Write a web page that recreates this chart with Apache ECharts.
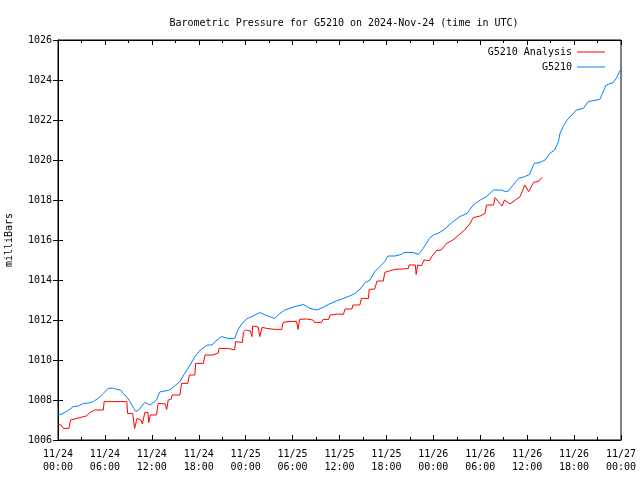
<!DOCTYPE html>
<html>
<head>
<meta charset="utf-8">
<script src="https://cdn.jsdelivr.net/npm/echarts@6/dist/echarts.min.js"></script>
<style>html,body{margin:0;padding:0;background:#fff}#c{width:640px;height:480px}</style>
</head>
<body>
<div id="c"></div>
<script>
// hours since 2024-11-24 00:00 UTC
const tickLabels = ['11/24\n00:00','11/24\n06:00','11/24\n12:00','11/24\n18:00','11/25\n00:00','11/25\n06:00','11/25\n12:00','11/25\n18:00','11/26\n00:00','11/26\n06:00','11/26\n12:00','11/26\n18:00','11/27\n00:00'];

const obsHours = [0,0.5,1.2,1.96,2.6,3.24,3.9,4.5,5.2,5.8,6.4,7.0,7.5,8.0,8.35,8.8,9.2,9.6,9.97,10.4,10.7,11.1,11.8,12.6,13.0,14.3,14.9,15.6,16.2,16.9,17.5,18.2,19.1,19.7,20.1,20.9,21.7,22.6,23.0,23.5,24.1,25.2,25.8,26.7,27.7,28.4,29.0,30.3,31.4,32.2,33.1,33.9,34.6,35.6,36.5,37.3,38.0,38.6,39.3,39.9,40.5,41.2,41.8,42.2,43.1,43.3,43.9,44.2,44.4,44.6,45.4,45.5,46.1,46.3,46.7,47.1,47.5,48.0,48.6,49.3,50.3,51.4,52.3,53.1,54.0,54.8,55.7,56.7,57.2,57.6,58.2,58.9,59.7,60.3,60.9,61.6,62.3,62.9,63.5,64.0,64.2,64.6,65.1,65.9,66.3,67.2,67.8,69.3,70.1,71.0,71.4,71.8,72.0];
const obsValues = [1007.25,1007.3,1007.45,1007.67,1007.7,1007.83,1007.85,1007.92,1008.1,1008.33,1008.58,1008.6,1008.53,1008.5,1008.33,1008.15,1007.92,1007.65,1007.42,1007.53,1007.7,1007.88,1007.75,1008.0,1008.4,1008.5,1008.7,1008.92,1009.33,1009.75,1010.17,1010.5,1010.75,1010.75,1010.92,1011.17,1011.08,1011.08,1011.5,1011.8,1012.05,1012.25,1012.37,1012.22,1012.08,1012.33,1012.5,1012.67,1012.78,1012.58,1012.5,1012.63,1012.78,1012.95,1013.08,1013.2,1013.33,1013.53,1013.87,1014.0,1014.42,1014.7,1014.92,1015.2,1015.2,1015.28,1015.28,1015.37,1015.28,1015.38,1015.38,1015.28,1015.28,1015.38,1015.58,1015.83,1016.08,1016.25,1016.33,1016.5,1016.85,1017.17,1017.33,1017.75,1018.0,1018.17,1018.5,1018.5,1018.42,1018.45,1018.75,1019.08,1019.17,1019.28,1019.83,1019.87,1020.0,1020.33,1020.5,1020.92,1021.33,1021.67,1022.0,1022.33,1022.5,1022.58,1022.92,1023.03,1023.75,1023.87,1024.08,1024.42,1024.55];

const anaHours = [0,0.4,0.68,1.4,1.6,2.8,3.6,4.1,4.7,5.8,5.9,8.8,8.9,9.55,9.8,10.0,10.1,10.6,10.8,10.9,11.1,11.5,11.6,11.8,12.6,12.8,13.7,13.9,14.1,14.5,14.6,15.6,15.8,16.6,16.8,17.5,17.6,18.6,18.8,19.8,19.9,20.5,20.6,21.8,21.9,22.6,22.7,23.6,23.7,24.0,24.6,24.8,24.9,25.6,25.8,26.1,26.7,27.7,28.6,28.8,29.7,30.5,30.7,30.9,31.8,32.6,32.8,33.7,33.9,34.6,34.8,35.8,36.5,36.7,37.6,37.7,38.6,38.8,39.7,39.8,40.5,40.8,41.6,41.8,42.5,43.1,44.8,44.9,45.7,45.8,46.0,46.5,46.8,47.5,47.8,48.4,49.0,49.7,50.5,51.4,52.0,52.7,53.1,54.0,54.6,54.8,55.7,55.9,56.3,56.8,57.1,57.8,58.5,59.1,59.7,60.2,60.8,61.0,61.5,61.9];
const anaValues = [1006.78,1006.75,1006.58,1006.58,1007.0,1007.12,1007.2,1007.37,1007.5,1007.5,1007.92,1007.92,1007.33,1007.33,1006.58,1006.58,1007.08,1007.0,1006.8,1007.0,1007.38,1007.38,1006.87,1007.25,1007.25,1007.83,1007.8,1007.53,1008.0,1008.05,1008.25,1008.25,1008.83,1008.83,1009.25,1009.25,1009.83,1009.83,1010.25,1010.25,1010.33,1010.35,1010.58,1010.58,1010.5,1010.5,1010.92,1010.88,1011.4,1011.5,1011.45,1011.17,1011.7,1011.65,1011.17,1011.63,1011.58,1011.53,1011.53,1011.88,1011.93,1011.93,1011.53,1012.03,1012.05,1012.0,1011.88,1011.88,1012.03,1012.03,1012.25,1012.3,1012.28,1012.55,1012.55,1012.75,1012.75,1013.08,1013.08,1013.53,1013.55,1013.95,1013.95,1014.38,1014.47,1014.53,1014.57,1014.75,1014.75,1014.28,1014.75,1014.72,1015.0,1014.97,1015.17,1015.47,1015.5,1015.83,1016.0,1016.3,1016.5,1016.83,1017.12,1017.2,1017.33,1017.75,1017.75,1018.12,1017.92,1017.7,1018.0,1017.8,1018.0,1018.17,1018.75,1018.42,1018.87,1018.8,1018.95,1019.13];

const font = 'DejaVu Sans Mono';
const chart = echarts.init(document.getElementById('c'), null, {renderer: 'canvas'});
const zip = (a, b) => a.map((h, i) => [h, b[i]]);

chart.setOption({
  animation: false,
  backgroundColor: '#fff',
  title: {
    text: 'Barometric Pressure for G5210 on 2024-Nov-24 (time in UTC)',
    left: 339, top: 13, textAlign: 'center',
    textStyle: {fontFamily: font, fontSize: 10, fontWeight: 'normal', color: '#000'}
  },
  legend: {
    orient: 'vertical', right: 30, top: 42, align: 'right',
    icon: 'rect', itemWidth: 28, itemHeight: 1, itemGap: 5,
    textStyle: {fontFamily: font, fontSize: 10, color: '#000'},
    data: ['G5210 Analysis', 'G5210']
  },
  grid: {left: 58, right: 19, top: 40, bottom: 40, show: true, borderColor: '#000', borderWidth: 1,
    containLabel: false, outerBoundsMode: 'none'},
  xAxis: [{
    type: 'value', min: 0, max: 72, interval: 6,
    axisLine: {show: true, lineStyle: {color: '#000'}},
    axisTick: {inside: true, length: 5, lineStyle: {color: '#000'}},
    minorTick: {show: true, splitNumber: 2, length: 3, lineStyle: {color: '#000'}},
    splitLine: {show: false},
    axisLabel: {fontFamily: font, fontSize: 10, color: '#000', margin: 8, lineHeight: 13,
      formatter: v => tickLabels[Math.round(v / 6)]}
  }, {
    type: 'value', min: 0, max: 72, interval: 6, position: 'top',
    axisLine: {show: true, lineStyle: {color: '#000'}},
    axisTick: {inside: true, length: 5, lineStyle: {color: '#000'}},
    minorTick: {show: true, splitNumber: 2, length: 3, lineStyle: {color: '#000'}},
    splitLine: {show: false}, axisLabel: {show: false}
  }],
  yAxis: [{
    type: 'value', min: 1006, max: 1026, interval: 2,
    name: 'milliBars', nameLocation: 'middle', nameGap: 44,
    nameTextStyle: {fontFamily: font, fontSize: 10, color: '#000'},
    axisLine: {show: true, lineStyle: {color: '#000'}},
    axisTick: {inside: true, length: 5, lineStyle: {color: '#000'}},
    splitLine: {show: false},
    axisLabel: {fontFamily: font, fontSize: 10, color: '#000', margin: 6, formatter: v => String(v)}
  }, {
    type: 'value', min: 1006, max: 1026, interval: 2, position: 'right',
    axisLine: {show: true, lineStyle: {color: '#000'}},
    axisTick: {inside: true, length: 5, lineStyle: {color: '#000'}},
    splitLine: {show: false}, axisLabel: {show: false}
  }],
  series: [{
    name: 'G5210 Analysis', type: 'line', showSymbol: false, symbol: 'none',
    lineStyle: {color: '#ff0000', width: 1}, itemStyle: {color: '#ff0000'},
    data: zip(anaHours, anaValues)
  }, {
    name: 'G5210', type: 'line', showSymbol: false, symbol: 'none',
    lineStyle: {color: '#0080ff', width: 1}, itemStyle: {color: '#0080ff'},
    data: zip(obsHours, obsValues)
  }]
});
</script>
</body>
</html>
